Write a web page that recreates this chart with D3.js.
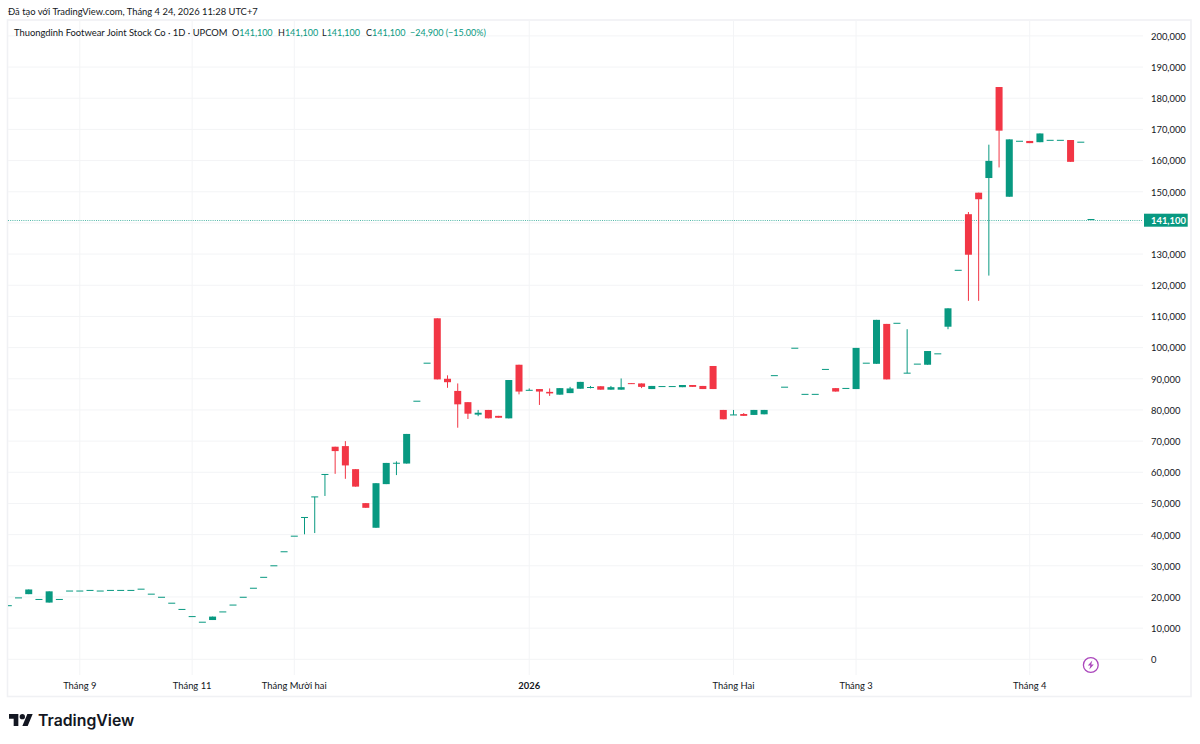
<!DOCTYPE html>
<html><head><meta charset="utf-8">
<script src="https://cdn.jsdelivr.net/npm/d3@7/dist/d3.min.js"></script>
<style>
html,body{margin:0;padding:0;background:#fff;overflow:hidden}
text{font-family:"Lato","Liberation Sans",sans-serif}
</style></head><body><svg id="c" width="1200" height="744"></svg>
<script>
const categories = d3.range(107);
const opens = [17200,19700,20900,19200,18200,19200,21900,21900,22100,21900,
22100,22100,22100,22500,20900,19900,18000,16000,13700,11900,
12600,15200,17400,19900,22800,26300,30000,34500,39500,45500,
52100,59300,68200,68400,61000,50100,42200,56200,62900,62800,
82800,95000,109400,90000,86100,82500,78500,80000,78100,77300,
94500,86300,86700,85800,84900,85400,86800,87200,87600,86500,
86500,88600,88500,86700,87500,87500,87300,88000,87700,94100,
80000,78400,78700,78400,78600,91000,87300,99800,85000,85000,
93000,87000,86900,86700,95000,94800,107600,107800,91800,94700,
94500,98000,106700,124800,142800,149700,154400,183600,148400,166200,
166300,165900,166500,166500,166600,165900,141100];
const closes = [17200,19700,22400,19200,21800,19200,21900,21900,22100,21900,
22100,22100,22100,22500,20900,19900,18000,16000,13700,11900,
13700,15200,17400,19900,22800,26300,30000,34500,39500,45500,
52100,59300,66800,62200,55400,48600,56500,63000,62900,72300,
82800,95000,89800,88900,81800,78800,79100,77300,77500,89600,
85900,86300,85900,85300,87000,86900,89000,87200,86500,87300,
87300,88400,87400,87700,87500,87500,88000,87400,86700,86700,
77000,78400,78100,80000,80000,91000,87300,99800,85000,85000,
93000,85900,86900,99900,95000,108900,89800,107800,91800,94700,
98900,98000,112600,124800,129800,147600,159900,169600,166800,166200,
165600,168700,166500,166500,159600,165900,141100];
const highs = [17200,19700,22400,19200,21800,19200,21900,21900,22100,21900,
22100,22100,22100,22500,20900,19900,18000,16000,13700,11900,
13700,15200,17400,19900,22800,26300,30000,34500,39500,45500,
52100,59300,68200,70000,61000,50100,56500,63000,63500,72300,
82800,95000,109400,91100,88500,82500,80000,80000,78100,89600,
94500,86900,86700,86900,87000,87400,89000,87700,87600,87700,
90100,88600,88500,87700,87500,87500,88000,88000,87700,94100,
80000,80000,79000,80000,80000,91000,87300,99800,85000,85000,
93000,87000,86900,99900,95000,108900,107600,107800,105900,94700,
98900,98000,112600,124800,143500,149700,165100,183600,166800,166200,
166300,168700,166500,166500,166600,165900,141100];
const lows = [17200,19700,20900,19200,18200,19200,21900,21900,22100,21900,
22100,22100,22100,22500,20900,19900,18000,16000,13700,11900,
12600,15200,17400,19900,22800,26300,30000,34500,39500,40100,
40500,52400,59500,57900,55400,48600,42200,56200,59100,62800,
82800,95000,89800,87100,74300,77100,78000,77300,77500,77300,
85000,86300,81600,84500,84900,85400,86800,86900,86500,86500,
86500,88400,87000,86700,87500,87500,87300,87400,86700,86700,
77000,78400,78100,78400,78600,91000,87300,99800,85000,85000,
93000,85900,86900,86700,95000,94800,89800,107800,91800,94700,
94500,98000,105900,124800,115000,115000,123100,157800,148400,166200,
165600,165900,166500,166500,159600,165900,141100];
const yTicks = d3.range(0,200001,10000);
const yLabelTicks = yTicks.filter(v=>v!==140000);
const xTickBars = [7,18,28,51,71,83,100];
const xTickLabels = ["Tháng 9","Tháng 11","Tháng Mười hai","2026","Tháng Hai","Tháng 3","Tháng 4"];
const lastPrice = 141100;
const headerText = "Đã tạo với TradingView.com, Tháng 4 24, 2026 11:28 UTC+7";
const legendName = "Thuongdinh Footwear Joint Stock Co · 1D · UPCOM";
const legendOHLC = [["O","141,100"],["H","141,100"],["L","141,100"],["C","141,100"]];
const legendChange = "−24,900 (−15.00%)";

const UP="#089981", DOWN="#F23645", GRID="#f3f4f6", TXT="#131722", FRAME="#f0f1f4", FS=9.4;
const svg=d3.select("#c");
const x=d3.scaleLinear().domain([0,106]).range([8.3,1091]);
const y=d3.scaleLinear().domain([0,200000]).range([659.3,35.9]);
const L=8,R=1143,T=20,B=675;

svg.append("rect").attr("x",7.5).attr("y",20).attr("width",1183.5).attr("height",676.5)
  .attr("fill","none").attr("stroke",FRAME).attr("stroke-width",1.6);

const plot=svg.append("g");
plot.selectAll("line.h").data(yTicks).join("line").attr("class","h")
  .attr("x1",L).attr("x2",R).attr("y1",d=>y(d)).attr("y2",d=>y(d)).attr("stroke",GRID).attr("stroke-width",1);
plot.selectAll("line.v").data(xTickBars).join("line").attr("class","v")
  .attr("x1",d=>x(d)).attr("x2",d=>x(d)).attr("y1",T).attr("y2",B).attr("stroke",GRID).attr("stroke-width",1);
plot.append("line").attr("x1",L).attr("x2",R).attr("y1",220.5).attr("y2",220.5)
  .attr("stroke","#52b8a8").attr("stroke-width",1).attr("stroke-dasharray","1 1.2");

const col=i=>closes[i]>=opens[i]?UP:DOWN;
svg.append("clipPath").attr("id","pc").append("rect").attr("x",L).attr("y",T).attr("width",R-L).attr("height",B-T);
const bars=svg.append("g").attr("clip-path","url(#pc)");
bars.selectAll("line.w").data(categories.filter(i=>highs[i]>lows[i])).join("line").attr("class","w")
  .attr("x1",i=>x(i)).attr("x2",i=>x(i)).attr("y1",i=>y(highs[i])).attr("y2",i=>y(lows[i]))
  .attr("stroke",col).attr("stroke-width",1);
bars.selectAll("rect").data(categories).join("rect")
  .attr("x",i=>x(i)-3.5).attr("width",7)
  .attr("y",i=>y(Math.max(opens[i],closes[i]))-(opens[i]===closes[i]?.5:0))
  .attr("height",i=>Math.max(1,Math.abs(y(opens[i])-y(closes[i]))))
  .attr("fill",col);

// price axis
const yAxis=d3.axisRight(y).tickValues(yLabelTicks).tickFormat(d3.format(",")).tickSize(0).tickPadding(0);
const gy=svg.append("g").attr("transform","translate(1151,0)").call(yAxis);
gy.select(".domain").remove();
gy.selectAll("text").attr("font-size",FS).attr("fill",TXT).attr("text-anchor","start").attr("dy","0.36em");

// time axis
const xAxis=d3.axisBottom(x).tickValues(xTickBars).tickFormat((d,i)=>xTickLabels[i]).tickSize(0).tickPadding(0);
const gx=svg.append("g").attr("transform","translate(-0.5,682)").call(xAxis);
gx.select(".domain").remove();
gx.selectAll("text").attr("font-size",FS).attr("fill",TXT).attr("dy","0.71em")
  .attr("font-weight",(d,i)=>xTickLabels[i]==="2026"?"700":"400");

// last price label
svg.append("rect").attr("x",1144).attr("y",213.7).attr("width",43.7).attr("height",13).attr("fill",UP);
svg.append("text").attr("x",1151).attr("y",224).attr("font-size",FS).attr("font-weight",700).attr("fill","#fff").text(d3.format(",")(lastPrice));

// header + legend
svg.append("text").attr("x",8).attr("y",15).attr("font-size",FS).attr("fill",TXT).text(headerText);
const lg=svg.append("g").attr("font-size",FS);
lg.append("text").attr("x",14).attr("y",36).attr("fill",TXT).text(legendName);
const legX=[232,278,322,366];
legendOHLC.forEach(([k,v],i)=>{
  const t=lg.append("text").attr("x",legX[i]).attr("y",36).attr("font-size",9);
  t.append("tspan").attr("fill",TXT).text(k);
  t.append("tspan").attr("fill",UP).text(v);
});
lg.append("text").attr("x",410).attr("y",36).attr("font-size",9).attr("fill",UP).text(legendChange);

// logo
const logo=svg.append("g").attr("transform","translate(9,714) scale(.667)").attr("fill","#131722");
logo.append("path").attr("d","M14 18H7V7H0V0h14v18zM28 18h-8L27.5 0h8L28 18z");
logo.append("circle").attr("cx",20).attr("cy",4).attr("r",4);
svg.append("text").attr("x",38).attr("y",726).attr("style","font-family:Inter").attr("font-size",15.8).attr("font-weight",600).attr("fill","#131722").text("TradingView");

// lightning badge
const ic=svg.append("g").attr("transform","translate(1090.8,665)");
ic.append("circle").attr("r",7.4).attr("fill","#fff").attr("stroke","#ab47bc").attr("stroke-width",1.3);
ic.append("path").attr("d","M1.5-4.5L-3 .6H-.4L-1.5 4.5L3-.6H.4Z").attr("fill","#ab47bc");
</script></body></html>
